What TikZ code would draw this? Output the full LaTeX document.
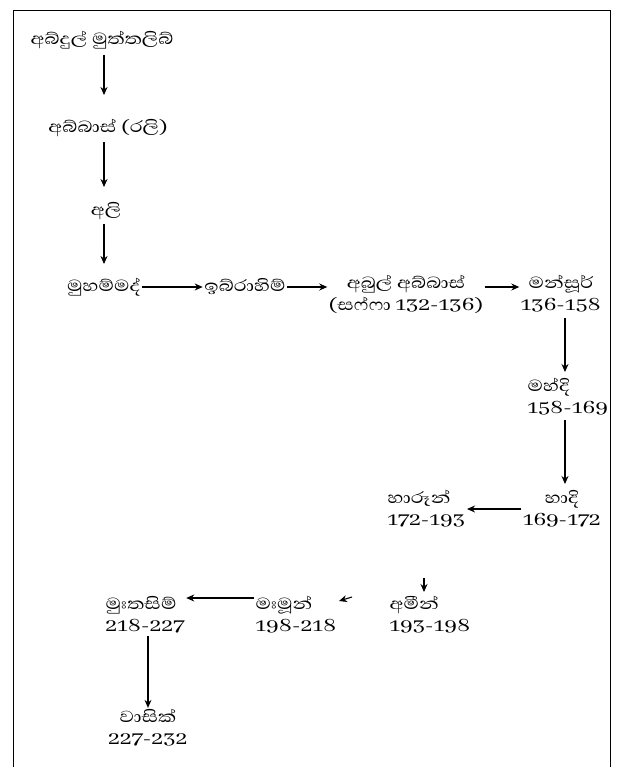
\documentclass[tikz,border=0pt]{standalone}
\usepackage{fontspec}
\usetikzlibrary{arrows.meta}
\newfontfamily\sinfont[Script=Sinhala,Numbers=Lining,FakeStretch=1.25]{Abhaya Libre}
\begin{document}
\begin{tikzpicture}[x=1pt,y=-1pt,
  lbl/.style={font=\sinfont\fontsize{20.5}{22}\selectfont, align=center, inner sep=1.5pt},
  lbll/.style={lbl, align=left, anchor=west},
  conn/.style={line width=1.1pt, -{Stealth[length=8pt,width=7pt]}}]
\useasboundingbox (0,0) rectangle (623,767);
\draw[line width=0.8pt] (13,767) -- (13,10) -- (610,10) -- (610,767);
\node[lbl] (a) at (102,40) {අබ්දුල් මුත්තලිබ්};
\node[lbl] (b) at (108,128) {අබ්බාස් (රලි)};
\node[lbl] (c) at (106,211) {අලි};
\node[lbl] (d) at (104,287) {මුහම්මද්};
\node[lbl] (e) at (245,287) {ඉබ්රාහිම්};
\node[lbl] (f) at (406,294) {අබුල් අබ්බාස්\\(සෆ්ෆා 132-136)};
\node[lbl] (g) at (561,294) {මන්සූර්\\136-158};
\node[lbll] (h) at (526,397) {මහ්දි\\158-169};
\node[lbl] (i) at (562,509) {හාදි\\169-172};
\node[lbll] (j) at (386,509) {හාරූන්\\172-193};
\node[lbll] (k) at (388,615) {අමීන්\\193-198};
\node[lbll] (l) at (254,615) {මඃමූන්\\198-218};
\node[lbll] (m) at (104,615) {මුඃතසිම්\\218-227};
\node[lbl] (n) at (148,728) {වාසික්\\227-232};
\coordinate (ks) at (424,578);
\coordinate (ke) at (424,592);
\coordinate (ls) at (352,597);
\coordinate (le) at (339,601);
\draw[conn] (104,55) -- (104,95);
\draw[conn] (104,142) -- (104,187);
\draw[conn] (104,224) -- (104,264);
\draw[conn] (d.east) -- (e.west);
\draw[conn] (e.east) -- (f.west |- e.east);
\draw[conn] (f.east |- e.east) -- (g.west |- e.east);
\draw[conn] (565,318) -- (565,372);
\draw[conn] (565,420) -- (565,484);
\draw[conn] (i.west) -- (j.east);
\draw[conn] (ks) -- (ke);
\draw[conn] (ls) -- (le);
\draw[conn] (l.west |- 0,598) -- (m.east |- 0,598);
\draw[conn] (148,636) -- (n.north);
\end{tikzpicture}
\end{document}
